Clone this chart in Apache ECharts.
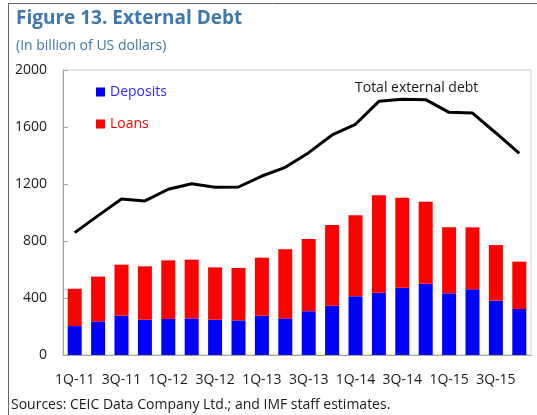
<!DOCTYPE html>
<html>
<head>
<meta charset="utf-8">
<script src="https://cdn.jsdelivr.net/npm/echarts@6/dist/echarts.min.js"></script>
<style>
html,body{margin:0;padding:0;background:#fff;}
#c{width:537px;height:415px;}
</style>
</head>
<body>
<div id="c"></div>
<script>
var categories = ['1Q-11','2Q-11','3Q-11','4Q-11','1Q-12','2Q-12','3Q-12','4Q-12','1Q-13','2Q-13','3Q-13','4Q-13','1Q-14','2Q-14','3Q-14','4Q-14','1Q-15','2Q-15','3Q-15','4Q-15'];
var deposits = [203,236,276,248,253,257,248,243,276,257,307,346,412,437,472,500,433,461,381,323];
var loans = [262,314,358,374,411,412,367,368,407,485,507,566,568,684,632,576,463,435,391,332];
var totalDebt = [859,978,1095,1081,1163,1202,1177,1179,1256,1317,1420,1544,1619,1780,1794,1792,1703,1698,1558,1415];
var yTicks = [0,400,800,1200,1600,2000];

var FONT = 'Open Sans';
var chart = echarts.init(document.getElementById('c'), null, {renderer:'canvas'});
chart.setOption({
  animation:false,
  textStyle:{fontFamily:FONT},
  grid:{left:63,right:6,top:70,bottom:60,show:true,borderColor:'#cfcfcf',borderWidth:1},
  title:[
    {text:'Figure 13. External Debt',left:11,top:4,textStyle:{fontFamily:FONT,fontSize:19,fontWeight:'bold',color:'#3d77ad'}},
    {text:'(In billion of US dollars)',left:11,top:34,textStyle:{fontFamily:FONT,fontSize:14,fontWeight:'normal',color:'#3d77ad'}}
  ],
  legend:{
    orient:'vertical',left:91,top:80,itemWidth:9,itemHeight:9,itemGap:18,
    data:[{name:'Deposits',textStyle:{color:'#2b2bff'}},{name:'Loans',textStyle:{color:'#ff0000'}}],
    textStyle:{fontFamily:FONT,fontSize:14},
    icon:'rect'
  },
  xAxis:{
    type:'category',data:categories,
    axisLine:{lineStyle:{color:'#a6a6a6'}},
    axisTick:{inside:true,length:4,interval:0,lineStyle:{color:'#a6a6a6'}},
    axisLabel:{interval:1,color:'#1a1a1a',fontSize:14,margin:18,fontFamily:FONT}
  },
  yAxis:{
    type:'value',min:yTicks[0],max:yTicks[yTicks.length-1],interval:400,
    splitLine:{show:false},
    axisLine:{show:true,lineStyle:{color:'#a6a6a6'}},
    axisTick:{show:true,inside:true,length:5,lineStyle:{color:'#a6a6a6'}},
    axisLabel:{color:'#1a1a1a',fontSize:14,margin:16,fontFamily:FONT,formatter:function(v){return String(v);}}
  },
  series:[
    {name:'Deposits',type:'bar',stack:'s',data:deposits,barWidth:14,itemStyle:{color:'#0000ff'}},
    {name:'Loans',type:'bar',stack:'s',data:loans,barWidth:14,itemStyle:{color:'#ff0000'}},
    {name:'Total external debt',type:'line',data:totalDebt,symbol:'none',lineStyle:{color:'#000',width:3},z:5}
  ],
  graphic:[
    {type:'text',left:355,top:81,style:{text:'Total external debt',font:'14px "Open Sans"',fill:'#1a1a1a'}},
    {type:'text',left:11,top:398,style:{text:'Sources: CEIC Data Company Ltd.; and IMF staff estimates.',font:'14px "Open Sans"',fill:'#1a1a1a'}},
    {type:'line',shape:{x1:8.5,y1:3,x2:8.5,y2:415},style:{stroke:'#666',lineWidth:1}},
    {type:'line',shape:{x1:8,y1:3.5,x2:537,y2:3.5},style:{stroke:'#666',lineWidth:1}}
  ]
});
</script>
</body>
</html>
